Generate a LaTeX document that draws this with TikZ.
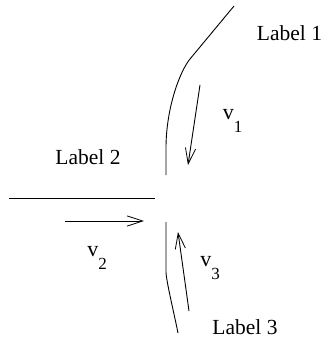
\documentclass[tikz,border=0pt]{standalone}
\usepackage{fontspec}
\setmainfont{Liberation Serif}
\usetikzlibrary{arrows.meta, positioning}
\newcommand{\speed}[1]{v\raisebox{-0.62em}{\fontsize{17}{17}\selectfont #1}}

\begin{document}
\begin{tikzpicture}[
  x=1pt, y=-1pt,
  wall/.style={line width=0.9pt},
  arr/.style={-{Straight Barb[length=5.5mm, width=3.6mm, line width=0.8pt]}, line width=0.9pt},
  lab/.style={inner sep=0pt, font=\fontsize{21.5}{21.5}\selectfont},
  speedlab/.style={inner sep=0pt, font=\fontsize{22}{22}\selectfont}
]
\useasboundingbox (0,0) rectangle (321,339);

\coordinate (top1) at (234,6);
\coordinate (bend1) at (190,59);
\coordinate (low1) at (166,148);
\coordinate (end1) at (166,175);
\coordinate (start2) at (9,198);
\coordinate (end2) at (155,198);
\coordinate (end3) at (166,222);
\coordinate (low3) at (166,272);
\coordinate (top3) at (178,333);

\coordinate (v1start) at (200,85);
\coordinate (v1tip) at (188,165);
\coordinate (v2start) at (65,221);
\coordinate (v2tip) at (144,221);
\coordinate (v3start) at (189,311);
\coordinate (v3tip) at (178,232);

\node[lab] (label1) at (289.5,33) {Label 1};
\node[lab] (label2) at (88,157) {Label 2};
\node[lab] (label3) at (245,327) {Label 3};

\node[speedlab] (speed1) at (232.5,121) {\speed{1}};
\node[speedlab] (speed2) at (97,258) {\speed{2}};
\node[speedlab] (speed3) at (210,268) {\speed{3}};

\draw[wall] (top1) -- (bend1) .. controls +(-10,12) and +(0,-40) .. (low1) -- (end1);
\draw[wall] (start2) -- (end2);
\draw[wall] (end3) -- (low3) .. controls +(0,8) and +(-4,-20) .. (top3);

\draw[arr] (v1start) -- (v1tip);
\draw[arr] (v2start) -- (v2tip);
\draw[arr] (v3start) -- (v3tip);
\end{tikzpicture}
\end{document}
